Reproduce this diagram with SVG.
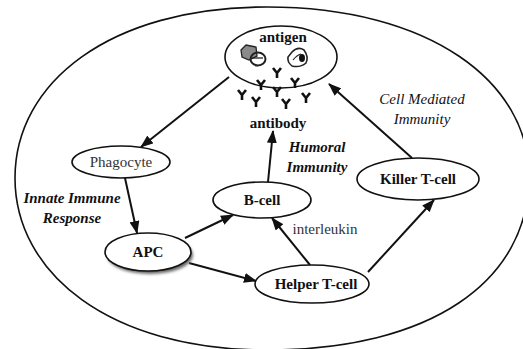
<svg xmlns="http://www.w3.org/2000/svg" width="523" height="349" viewBox="0 0 523 349">
  <style>
    .node { fill: #fff; stroke: #111; stroke-width: 1.6; }
    .lbl { font-family: "Liberation Serif", "DejaVu Serif", "Noto Serif", serif; font-size: 15px; text-anchor: middle; fill: #111; }
    .b { font-weight: bold; }
    .it { font-style: italic; }
    .soft { fill: #333; }
    .edge { stroke: #111; stroke-width: 2; fill: none; marker-end: url(#head); }
    .ab { stroke: #111; stroke-width: 2.6; fill: none; stroke-linecap: butt; stroke-linejoin: miter; }
  </style>
  <defs>
    <marker id="head" markerUnits="userSpaceOnUse" markerWidth="13" markerHeight="10" refX="12" refY="5" orient="auto">
      <path d="M0,0 L13,5 L0,10 Z" fill="#111"/>
    </marker>
    <symbol id="antibody" overflow="visible">
      <path class="ab" d="M-4,-5 L0,0 L4,-5 M0,0 L0,5"/>
    </symbol>
    <filter id="shade" x="-20%" y="-30%" width="140%" height="160%">
      <feGaussianBlur stdDeviation="1.5"/>
    </filter>
  </defs>

  <rect width="523" height="349" fill="#fff"/>

  <!-- body boundary -->
  <path id="body" d="M15,178 C15,83 109,7 267,7 C430,7 529,82 529,176 C529,282 430,350 267,350 C109,350 15,273 15,178 Z" fill="none" stroke="#111" stroke-width="1.6"/>

  <!-- connectors -->
  <g id="edges">
    <line class="edge" x1="229" y1="77" x2="141" y2="147"/>
    <line class="edge" x1="125" y1="178" x2="137" y2="233"/>
    <line class="edge" x1="185" y1="238" x2="233" y2="215"/>
    <line class="edge" x1="189" y1="263" x2="256" y2="281"/>
    <line class="edge" x1="310" y1="265" x2="272" y2="218"/>
    <line class="edge" x1="268" y1="182" x2="273" y2="131"/>
    <line class="edge" x1="368" y1="272" x2="434" y2="200"/>
    <line class="edge" x1="412" y1="158" x2="329" y2="84"/>
  </g>

  <!-- antigen -->
  <g id="antigen">
    <ellipse class="node" cx="281" cy="57" rx="56" ry="31"/>
    <text class="lbl b" font-family="Liberation Serif, serif" x="283" y="42">antigen</text>
    <path d="M241,50 L246,45 L256,47 L257,56 L249,60 L242,57 Z" fill="#8a8a8a" stroke="#222" stroke-width="1.3"/>
    <ellipse cx="258" cy="59" rx="7.5" ry="6.5" fill="none" stroke="#222" stroke-width="2"/>
    <path d="M252,58 L263,58" stroke="#222" stroke-width="1.3"/>
    <path d="M292,52 Q298,46 304,50 Q309,57 306,63 Q300,68 292,66 Q287,62 288,57 Z" fill="#fff" stroke="#222" stroke-width="1.6"/>
    <ellipse cx="302" cy="58" rx="3" ry="4" fill="#111"/>
    <path d="M293,60 Q297,55 301,54" fill="none" stroke="#222" stroke-width="1.2"/>
  </g>

  <!-- antibodies -->
  <g id="antibody-cluster">
    <use href="#antibody" x="277" y="73"/>
    <use href="#antibody" x="261" y="85"/>
    <use href="#antibody" x="295" y="83"/>
    <use href="#antibody" x="277" y="92"/>
    <use href="#antibody" x="242" y="95"/>
    <use href="#antibody" x="256" y="102"/>
    <use href="#antibody" x="286" y="104"/>
    <use href="#antibody" x="306" y="98"/>
    <text class="lbl b" x="278" y="128">antibody</text>
  </g>

  <g id="phagocyte">
    <ellipse class="node" cx="121" cy="162" rx="49" ry="16"/>
    <text class="lbl soft" x="121" y="167">Phagocyte</text>
  </g>

  <g id="bcell">
    <ellipse class="node" cx="262" cy="200" rx="49" ry="18"/>
    <text class="lbl b" x="262" y="205">B-cell</text>
  </g>

  <g id="apc">
    <ellipse cx="150" cy="255" rx="43" ry="19" fill="#666" filter="url(#shade)"/>
    <ellipse class="node" cx="148" cy="252" rx="43" ry="19"/>
    <text class="lbl b" x="148" y="257">APC</text>
  </g>

  <g id="helper">
    <ellipse class="node" cx="312" cy="284" rx="57" ry="19"/>
    <text class="lbl b" x="316" y="289">Helper T-cell</text>
  </g>

  <g id="killer">
    <ellipse class="node" cx="418" cy="179" rx="61" ry="21"/>
    <text class="lbl b" x="418" y="184">Killer T-cell</text>
  </g>

  <!-- pathway labels -->
  <g id="labels">
    <text class="lbl b it" x="72" y="203">Innate Immune</text>
    <text class="lbl b it" x="72" y="223">Response</text>
    <text class="lbl b it" x="317" y="152">Humoral</text>
    <text class="lbl b it" x="317" y="172">Immunity</text>
    <text class="lbl it" x="422" y="104">Cell Mediated</text>
    <text class="lbl it" x="422" y="124">Immunity</text>
    <text class="lbl soft" x="325" y="234">interleukin</text>
  </g>
</svg>
